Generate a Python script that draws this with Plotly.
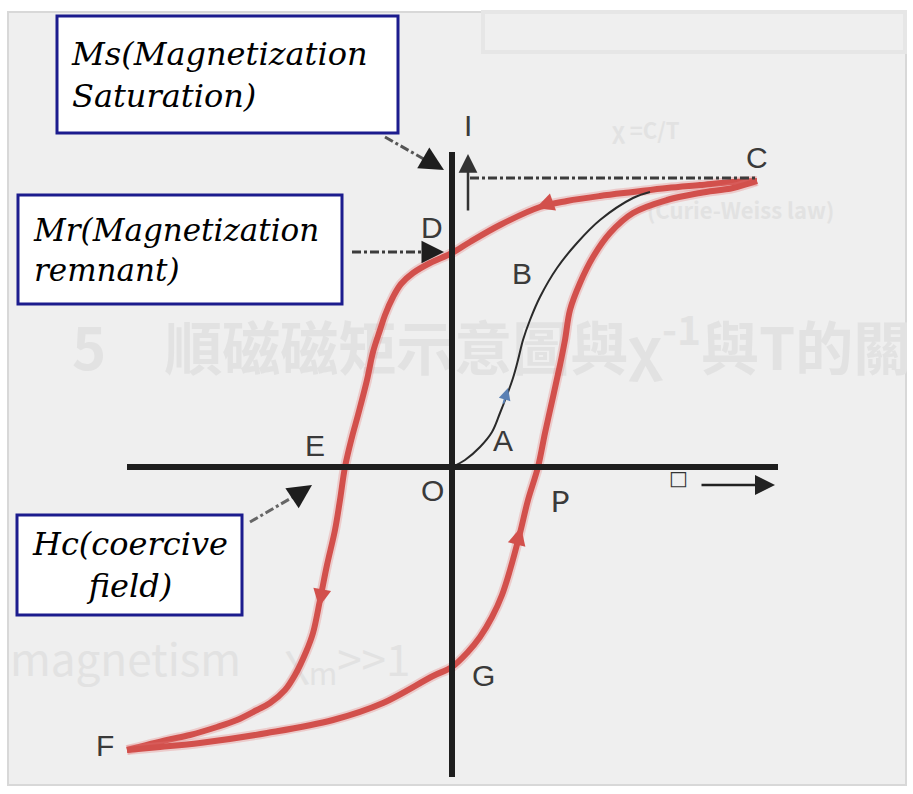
import plotly.graph_objects as go

# Hysteresis loop: field H (horizontal) vs magnetization I (vertical), arbitrary units
upper_H = [3.05, 2.81, 2.48, 2.15, 1.81, 1.48, 1.15, 0.88, 0.48, 0.18, 0.00, -0.22, -0.39,
           -0.51, -0.59, -0.67, -0.72, -0.79, -0.85, -0.94, -1.00, -1.07, -1.12, -1.17,
           -1.25, -1.32, -1.39, -1.46, -1.57, -1.67, -1.82, -1.95, -2.15, -2.35, -2.62,
           -2.85, -3.25]
upper_M = [2.86, 2.85, 2.82, 2.79, 2.75, 2.71, 2.66, 2.60, 2.42, 2.25, 2.14, 2.04, 1.94,
           1.83, 1.70, 1.52, 1.37, 1.15, 0.87, 0.52, 0.30, 0.00, -0.33, -0.63,
           -0.98, -1.33, -1.66, -1.85, -2.08, -2.23, -2.36, -2.43, -2.53, -2.60, -2.68,
           -2.73, -2.83]

lower_H = [-3.25, -2.92, -2.52, -1.85, -1.19, -0.69, -0.19, 0.00, 0.15, 0.28, 0.40, 0.50,
           0.58, 0.68, 0.76, 0.86, 0.93, 1.01, 1.08, 1.13, 1.18, 1.28, 1.41, 1.58, 1.81,
           2.15, 2.48, 2.81, 3.05]
lower_M = [-2.83, -2.80, -2.76, -2.66, -2.53, -2.36, -2.09, -2.00, -1.86, -1.70, -1.50, -1.28,
           -1.03, -0.66, -0.33, 0.00, 0.34, 0.70, 1.02, 1.27, 1.57, 1.84, 2.10, 2.34, 2.54,
           2.67, 2.74, 2.79, 2.86]

# Initial magnetization curve O -> A -> B -> C
virgin_H = [0.00, 0.13, 0.28, 0.40, 0.48, 0.55, 0.61, 0.66, 0.71, 0.78, 0.88, 1.05, 1.25,
            1.48, 1.81, 1.98]
virgin_M = [0.00, 0.07, 0.20, 0.35, 0.54, 0.72, 0.89, 1.07, 1.27, 1.47, 1.70, 1.99, 2.24,
            2.47, 2.69, 2.75]

# Axis extents
h_axis = [-3.25, 3.26]
i_axis = [3.15, -3.10]

# Characteristic levels
Ms_level = 2.89
Mr_level = 2.15
Hc_value = -1.07

# Point labels
point_names = ["C", "D", "B", "A", "E", "O", "G", "F", "I"]
point_H = [3.05, -0.20, 0.70, 0.51, -1.37, -0.20, 0.31, -3.47, 0.16]
point_M = [3.10, 2.40, 1.94, 0.27, 0.22, -0.23, -2.08, -2.78, 3.42]

# Faint print-through lines from the facing page
ghost_text = ["5　順磁磁矩示意圖與χ<sup>-1</sup>與T的關", "magnetism　χ<sub>m</sub>>>1",
              "χ =C/T", "(Curie-Weiss law)"]
ghost_H = [-3.80, -4.42, 1.60, 1.95]
ghost_M = [1.12, -1.98, 3.34, 2.54]
ghost_size = [58, 44, 22, 22]
ghost_weight = ["bold", "normal", "bold", "bold"]

RED = "#d2504c"
INK = "#1e1e1e"
LABEL = "#3a3a3a"
BOX = "#1c1c8e"
FAINT = "#e2e2e2"

fig = go.Figure()

# print-through text sits underneath everything else
for t, hx, my, sz, wt in zip(ghost_text, ghost_H, ghost_M, ghost_size, ghost_weight):
    fig.add_trace(go.Scatter(x=[hx], y=[my], mode="text", text=[t], textposition="middle right",
                             textfont=dict(family="Noto Sans CJK TC", size=sz, color=FAINT,
                                           weight=wt),
                             hoverinfo="skip"))

# soft halo + main stroke for the loop branches
for hx, my in [(upper_H, upper_M), (lower_H, lower_M)]:
    fig.add_trace(go.Scatter(x=hx, y=my, mode="lines",
                             line=dict(color="rgba(230,120,120,0.3)", width=10, shape="spline"),
                             hoverinfo="skip"))
    fig.add_trace(go.Scatter(x=hx, y=my, mode="lines",
                             line=dict(color=RED, width=6, shape="spline"), hoverinfo="skip"))

fig.add_trace(go.Scatter(x=virgin_H, y=virgin_M, mode="lines",
                         line=dict(color="#2a2a2a", width=2, shape="spline"), hoverinfo="skip"))

# coordinate axes
fig.add_trace(go.Scatter(x=h_axis, y=[0, 0], mode="lines",
                         line=dict(color=INK, width=6), hoverinfo="skip"))
fig.add_trace(go.Scatter(x=[0, 0], y=i_axis, mode="lines",
                         line=dict(color=INK, width=6), hoverinfo="skip"))

# saturation guide and Mr pointer
fig.add_trace(go.Scatter(x=[0.18, upper_H[0]], y=[Ms_level, Ms_level], mode="lines",
                         line=dict(color="#3c3c3c", width=3, dash="dashdot"), hoverinfo="skip"))
fig.add_trace(go.Scatter(x=[-1.00, -0.14], y=[Mr_level, Mr_level], mode="lines",
                         line=dict(color="#3c3c3c", width=3, dash="dashdot"), hoverinfo="skip"))
# Ms pointer
fig.add_trace(go.Scatter(x=[-0.67, -0.16], y=[3.30, 3.01], mode="lines",
                         line=dict(color="#555555", width=3, dash="dashdot"), hoverinfo="skip"))
# Hc pointer
fig.add_trace(go.Scatter(x=[-2.02, Hc_value - 0.40], y=[-0.55, -0.23], mode="lines",
                         line=dict(color="#666666", width=3, dash="dashdot"), hoverinfo="skip"))

annotations = []


def head(x, y, ax, ay, color, size, width, style=2):
    annotations.append(dict(x=x, y=y, ax=ax, ay=ay, xref="x", yref="y", axref="x", ayref="y",
                            text="", showarrow=True, arrowhead=style, arrowsize=size,
                            arrowwidth=width, arrowcolor=color))


# pointer heads
head(-0.08, 2.97, -0.20, 3.04, INK, 1.6, 3)
head(-0.08, Mr_level, -0.22, Mr_level, INK, 1.5, 3)
head(Hc_value - 0.33, -0.18, Hc_value - 0.45, -0.26, INK, 1.6, 3)
# I-axis arrow
head(0.16, 3.13, 0.16, 2.55, "#333333", 1.5, 2.5)
# H-axis arrow
head(3.23, -0.18, 2.48, -0.18, "#222222", 1.6, 2.5)
# direction marks along the curves
head(0.84, 2.59, 0.98, 2.64, RED, 1.2, 3)
head(-1.33, -1.40, -1.29, -1.18, RED, 1.2, 3)
head(0.69, -0.60, 0.63, -0.84, RED, 1.2, 3)
head(0.56, 0.79, 0.51, 0.62, "#5a80b4", 1.2, 2)

# point letters
for name, hx, my in zip(point_names, point_H, point_M):
    annotations.append(dict(x=hx, y=my, xref="x", yref="y", text=name, showarrow=False,
                            font=dict(family="Liberation Sans, Arial", size=30, color=LABEL)))
annotations.append(dict(x=1.08, y=-0.36, xref="x", yref="y", text="P", showarrow=False,
                        font=dict(family="Liberation Mono, Courier New", size=32, color=LABEL)))
annotations.append(dict(x=2.26, y=-0.11, xref="x", yref="y", text="□", showarrow=False,
                        font=dict(family="DejaVu Sans", size=20, color="#333333")))


# boxed callouts
def box_font(size):
    return dict(family="DejaVu Serif", size=size, color="#000000", style="italic")


annotations.append(dict(x=-3.83, y=3.92, xref="x", yref="y", xanchor="left", yanchor="middle",
                        text="Ms(Magnetization<br>Saturation)", showarrow=False, align="left",
                        font=box_font(32)))
annotations.append(dict(x=-4.21, y=2.17, xref="x", yref="y", xanchor="left", yanchor="middle",
                        text="Mr(Magnetization<br>remnant)", showarrow=False, align="left",
                        font=box_font(31)))
annotations.append(dict(x=-3.22, y=-0.98, xref="x", yref="y", xanchor="center", yanchor="middle",
                        text="Hc(coercive<br>field)", showarrow=False, align="center",
                        font=box_font(32)))

shapes = [
    # scanned page area
    dict(type="rect", xref="paper", yref="paper", x0=8 / 913, x1=906 / 913,
         y0=1 - 785 / 794, y1=1 - 12 / 794, fillcolor="#efefef",
         line=dict(color="#d8d8d8", width=2), layer="below"),
    dict(type="rect", xref="x", yref="y", x0=0.31, x1=4.53, y0=4.55, y1=4.15,
         line=dict(color="#e6e6e6", width=4), layer="below"),
    # callout frames
    dict(type="rect", xref="x", yref="y", x0=-3.95, x1=-0.54, y0=4.51, y1=3.34,
         fillcolor="white", line=dict(color=BOX, width=3), layer="below"),
    dict(type="rect", xref="x", yref="y", x0=-4.34, x1=-1.10, y0=2.72, y1=1.63,
         fillcolor="white", line=dict(color=BOX, width=3), layer="below"),
    dict(type="rect", xref="x", yref="y", x0=-4.35, x1=-2.10, y0=-0.48, y1=-1.48,
         fillcolor="white", line=dict(color=BOX, width=3), layer="below"),
]

fig.update_layout(
    width=913, height=794,
    margin=dict(l=0, r=0, t=0, b=0),
    paper_bgcolor="white", plot_bgcolor="rgba(0,0,0,0)",
    showlegend=False,
    xaxis=dict(range=[-4.52, 4.61], visible=False, fixedrange=True),
    yaxis=dict(range=[-3.27, 4.67], visible=False, fixedrange=True),
    annotations=annotations,
    shapes=shapes,
)

fig.write_html("out.html")
